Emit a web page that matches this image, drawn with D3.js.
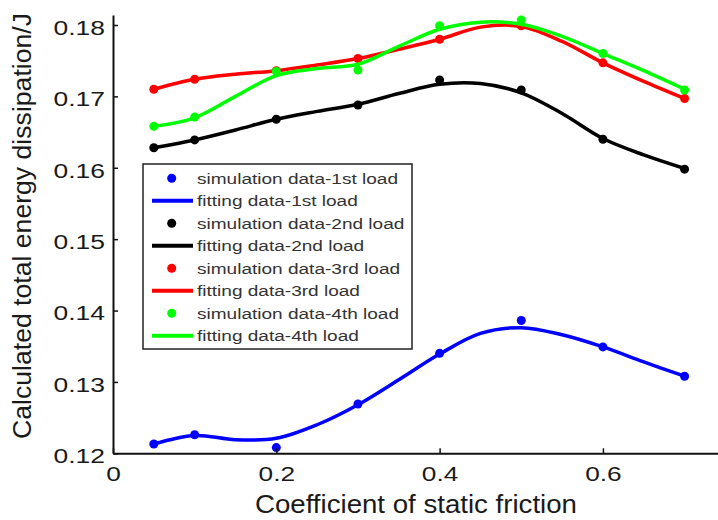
<!DOCTYPE html>
<html>
<head>
<meta charset="utf-8">
<script src="https://cdn.jsdelivr.net/npm/d3@7"></script>
<style>
  body { margin: 0; background: #fff; }
  text { font-family: "Liberation Sans", Arial, sans-serif; }
</style>
</head>
<body>
<div id="chart"></div>
<script>
// measured friction values
var simX = [0.05, 0.1, 0.2, 0.3, 0.4, 0.5, 0.6, 0.7];
var fitX = [0.05, 0.1, 0.15, 0.2, 0.25, 0.3, 0.35, 0.4, 0.45, 0.5, 0.55, 0.6, 0.65, 0.7];

// simulation data per load
var sim1 = [0.1213, 0.1226, 0.1208, 0.1269, 0.1340, 0.1386, 0.1349, 0.1308];
var sim2 = [0.1628, 0.1639, 0.1668, 0.1688, 0.1723, 0.1709, 0.1640, 0.1598];
var sim3 = [0.1710, 0.1724, 0.1736, 0.1753, 0.1780, 0.1799, 0.1747, 0.1697];
var sim4 = [0.1658, 0.1671, 0.1735, 0.1737, 0.1799, 0.1807, 0.1760, 0.1709];

// fitting curves per load
var fit1 = [0.1213, 0.1225, 0.1219, 0.1221, 0.1240, 0.1268, 0.1303, 0.1339, 0.1368, 0.1376, 0.1366, 0.1349, 0.1328, 0.1308];
var fit2 = [0.1628, 0.1639, 0.1653, 0.1668, 0.1679, 0.1689, 0.1704, 0.1717, 0.1718, 0.1705, 0.1676, 0.1641, 0.1618, 0.1599];
var fit3 = [0.1710, 0.1724, 0.1731, 0.1736, 0.1744, 0.1753, 0.1766, 0.1780, 0.1797, 0.1798, 0.1777, 0.1747, 0.1721, 0.1697];
var fit4 = [0.1658, 0.1670, 0.1700, 0.1729, 0.1739, 0.1745, 0.1770, 0.1794, 0.1804, 0.1801, 0.1784, 0.1760, 0.1736, 0.1710];

var loadNames = ["1st", "2nd", "3rd", "4th"];
var loadColors = ["#0000ff", "#000000", "#ff0000", "#00ff00"];

var xTicks = [0, 0.2, 0.4, 0.6];
var yTicks = [0.12, 0.13, 0.14, 0.15, 0.16, 0.17, 0.18];

var svgWidth = 718;
var svgHeight = 520;

var svg = d3.select("#chart")
  .append("svg")
  .attr("width", svgWidth)
  .attr("height", svgHeight);

var xScale = d3.scaleLinear().domain([0, 0.75]).range([113, 725.4]);
var yScale = d3.scaleLinear().domain([0.12, 0.1814]).range([453.3, 15]);

var sims = [sim1, sim2, sim3, sim4];
var fits = [fit1, fit2, fit3, fit4];

// curves and points
var line = d3.line()
  .x(d => xScale(d[0]))
  .y(d => yScale(d[1]))
  .curve(d3.curveCatmullRom);

sims.forEach(function(sim, i) {
  var g = svg.append("g");
  g.append("path")
    .datum(fitX.map((x, j) => [x, fits[i][j]]))
    .attr("d", line)
    .attr("fill", "none")
    .attr("stroke", loadColors[i])
    .attr("stroke-width", 3.5)
    .attr("stroke-linejoin", "round");

  g.selectAll("circle")
    .data(simX.map((x, j) => [x, sim[j]]))
    .enter()
    .append("circle")
    .attr("cx", d => xScale(d[0]))
    .attr("cy", d => yScale(d[1]))
    .attr("r", 4.5)
    .attr("fill", loadColors[i]);
});

// axes
var xAxis = d3.axisBottom(xScale)
  .tickValues(xTicks)
  .tickSizeInner(-5)
  .tickSizeOuter(0)
  .tickFormat(d => d === 0 ? "0" : d3.format(".1f")(d));

var yAxis = d3.axisLeft(yScale)
  .tickValues(yTicks)
  .tickSizeInner(-5)
  .tickSizeOuter(0)
  .tickFormat(d3.format(".2f"));

var gx = svg.append("g")
  .attr("transform", `translate(0, ${yScale(0.12)})`)
  .call(xAxis);

var gy = svg.append("g")
  .attr("transform", `translate(${xScale(0)}, 0)`)
  .call(yAxis);

[gx, gy].forEach(function(g) {
  g.attr("font-family", null).attr("font-size", null);
  g.select(".domain").attr("stroke", "#111").attr("stroke-width", 2);
  g.selectAll(".tick line").attr("stroke", "#111").attr("stroke-width", 1.5);
  g.selectAll(".tick text")
    .attr("fill", "#1a1a1a")
    .style("font-size", "21px");
});

gx.selectAll(".tick text")
  .attr("y", null)
  .attr("dy", null)
  .attr("transform", "translate(0, 27.5) scale(1.25, 1)");

gy.selectAll(".tick text")
  .attr("x", null)
  .attr("dy", "0.35em")
  .attr("transform", "translate(-8, 2) scale(1.26, 1)");

// axis labels
svg.append("text")
  .attr("x", 416)
  .attr("y", 513)
  .attr("text-anchor", "middle")
  .attr("fill", "#1a1a1a")
  .style("font-size", "26px")
  .attr("textLength", 322)
  .attr("lengthAdjust", "spacingAndGlyphs")
  .text("Coefficient of static friction");

svg.append("text")
  .attr("transform", "translate(31, 226) rotate(-90)")
  .attr("text-anchor", "middle")
  .attr("fill", "#1a1a1a")
  .style("font-size", "25px")
  .attr("textLength", 426)
  .attr("lengthAdjust", "spacingAndGlyphs")
  .text("Calculated total energy dissipation/J");

// legend
var legend = svg.append("g");
legend.append("rect")
  .attr("x", 143)
  .attr("y", 164)
  .attr("width", 269)
  .attr("height", 185)
  .attr("fill", "#fff")
  .attr("stroke", "#222")
  .attr("stroke-width", 1.5);

var rowY0 = 178.3;
var rowStep = 22.5;
loadNames.forEach(function(name, i) {
  var ySim = rowY0 + (2 * i) * rowStep;
  var yFit = ySim + rowStep;

  legend.append("circle")
    .attr("cx", 171.7)
    .attr("cy", ySim)
    .attr("r", 4.5)
    .attr("fill", loadColors[i]);

  legend.append("text")
    .attr("transform", `translate(197, ${ySim}) scale(1.27, 1)`)
    .attr("dy", "0.35em")
    .attr("fill", "#333")
    .style("font-size", "15px")
    .text(`simulation data-${name} load`);

  legend.append("line")
    .attr("x1", 152)
    .attr("x2", 193)
    .attr("y1", yFit)
    .attr("y2", yFit)
    .attr("stroke", loadColors[i])
    .attr("stroke-width", 4);

  legend.append("text")
    .attr("transform", `translate(197, ${yFit}) scale(1.27, 1)`)
    .attr("dy", "0.35em")
    .attr("fill", "#333")
    .style("font-size", "15px")
    .text(`fitting data-${name} load`);
});
</script>
</body>
</html>
